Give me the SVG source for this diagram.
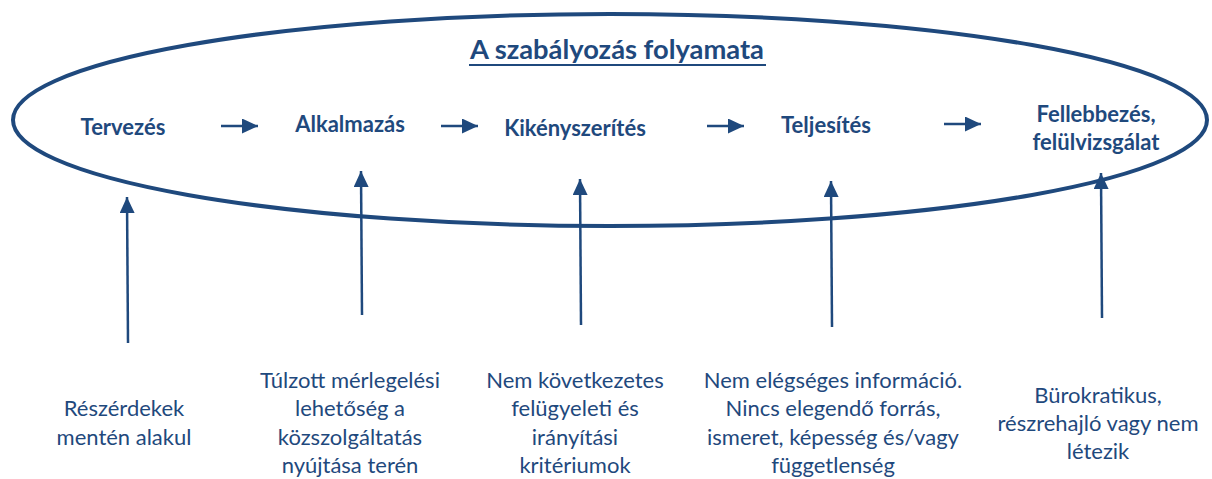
<svg xmlns="http://www.w3.org/2000/svg" width="1212" height="479" viewBox="0 0 1212 479">
<style>
.n{font-family:Lato,"Liberation Sans",sans-serif;font-weight:bold;font-size:22px;fill:#1F497D;text-anchor:middle}
.t{font-family:Lato,"Liberation Sans",sans-serif;font-size:22px;fill:#1F497D;text-anchor:middle}
.c{stroke:#1F497D;stroke-width:2.5;fill:none}
</style>
<defs>
<marker id="av" markerWidth="16" markerHeight="15" refX="16" refY="7.5" orient="auto" markerUnits="userSpaceOnUse" viewBox="0 0 16 15">
<path d="M0,0 L16,7.5 L0,15 Z" fill="#1F497D"/>
</marker>
</defs>
<g id="process">
<ellipse cx="610" cy="120" rx="597" ry="106" fill="none" stroke="#1F497D" stroke-width="4"/>
<text class="n" x="617" y="59" style="font-size:27.3px">A szabályozás folyamata</text>
<line x1="469" y1="65" x2="766" y2="65" stroke="#1F497D" stroke-width="2"/>
</g>
<g id="tervezes"><text class="n" x="123" y="135">Tervezés</text></g>
<g id="alkalmazas"><text class="n" x="350" y="132">Alkalmazás</text></g>
<g id="kikenyszerites"><text class="n" x="575" y="136">Kikényszerítés</text></g>
<g id="teljesites"><text class="n" x="826" y="133">Teljesítés</text></g>
<g id="fellebbezes"><text class="n" x="1096" y="122">Fellebbezés,</text><text class="n" x="1096" y="150">felülvizsgálat</text></g>
<g id="t1"><text class="t" x="124" y="416">Részérdekek</text><text class="t" x="124" y="445">mentén alakul</text></g>
<g id="t2"><text class="t" x="350" y="388">Túlzott mérlegelési</text><text class="t" x="350" y="416">lehetőség a</text><text class="t" x="350" y="445">közszolgáltatás</text><text class="t" x="350" y="473">nyújtása terén</text></g>
<g id="t3"><text class="t" x="575" y="388">Nem következetes</text><text class="t" x="575" y="416">felügyeleti és</text><text class="t" x="575" y="445">irányítási</text><text class="t" x="575" y="473">kritériumok</text></g>
<g id="t4"><text class="t" x="833" y="388">Nem elégséges információ.</text><text class="t" x="833" y="416">Nincs elegendő forrás,</text><text class="t" x="833" y="445">ismeret, képesség és/vagy</text><text class="t" x="833" y="473">függetlenség</text></g>
<g id="t5"><text class="t" x="1098" y="403">Bürokratikus,</text><text class="t" x="1098" y="431">részrehajló vagy nem</text><text class="t" x="1098" y="459">létezik</text></g>
<g id="connectors">
<line class="c" x1="221" y1="126" x2="258" y2="126" marker-end="url(#av)"/>
<line class="c" x1="441" y1="126" x2="478" y2="126" marker-end="url(#av)"/>
<line class="c" x1="707" y1="126" x2="744" y2="126" marker-end="url(#av)"/>
<line class="c" x1="944" y1="124" x2="981" y2="124" marker-end="url(#av)"/>
<line class="c" x1="128" y1="343" x2="127" y2="197" marker-end="url(#av)"/>
<line class="c" x1="362" y1="315" x2="361" y2="171" marker-end="url(#av)"/>
<line class="c" x1="581" y1="325" x2="580" y2="179" marker-end="url(#av)"/>
<line class="c" x1="832" y1="327" x2="831" y2="181" marker-end="url(#av)"/>
<line class="c" x1="1102" y1="318" x2="1101" y2="173" marker-end="url(#av)"/>
</g>
</svg>
